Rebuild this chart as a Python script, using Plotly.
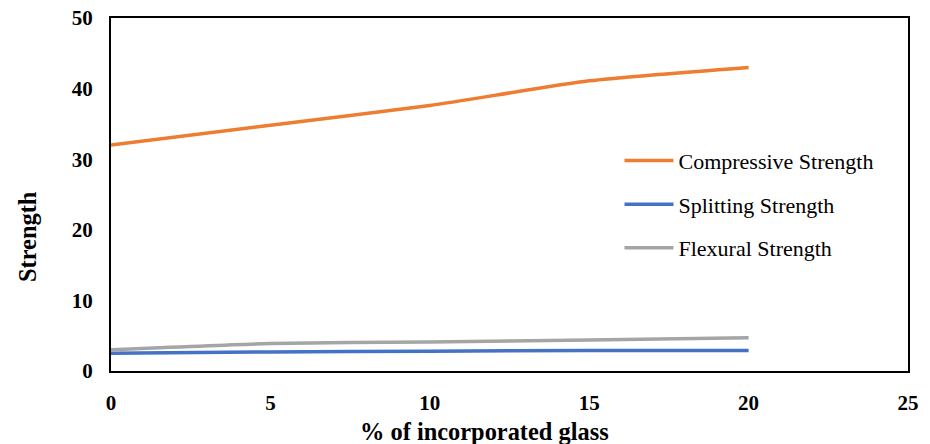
import plotly.graph_objects as go

glass_pct = [0, 5, 10, 15, 20]
compressive = [32.0, 34.8, 37.6, 41.1, 43.0]
splitting = [2.5, 2.7, 2.8, 2.9, 2.9]
flexural = [3.0, 3.9, 4.1, 4.4, 4.7]

series = [
    ("Compressive Strength", compressive, "#ED7D31"),
    ("Splitting Strength", splitting, "#4472C4"),
    ("Flexural Strength", flexural, "#A5A5A5"),
]

x_title = "% of incorporated glass"
y_title = "Strength"

fig = go.Figure()
for i, (name, vals, color) in enumerate(series):
    fig.add_trace(go.Scatter(
        x=glass_pct, y=vals, name=name, mode="lines",
        line=dict(color=color, width=3.5, shape="spline", smoothing=0.6),
        legendgroup=f"g{i}",
    ))

serif = "Liberation Serif, Times New Roman, serif"
axis_common = dict(
    showgrid=False, zeroline=False, showline=True, mirror=True,
    linecolor="black", linewidth=2, ticks="", ticklabelstandoff=12,
    automargin=False,
    tickfont=dict(family=serif, size=21, color="black", weight="bold"),
)
title_font = dict(family=serif, size=24.4, color="black", weight="bold")

fig.update_layout(
    width=930, height=444,
    margin=dict(l=111, r=22, t=18, b=73),
    paper_bgcolor="white", plot_bgcolor="white",
    font=dict(family=serif, color="black"),
    xaxis=dict(range=[0, 25], dtick=5, **axis_common),
    yaxis=dict(range=[0, 50], dtick=10, **axis_common),
    legend=dict(x=0.638, y=0.655, xanchor="left", yanchor="top",
                bgcolor="rgba(0,0,0,0)", tracegroupgap=12, itemwidth=49,
                font=dict(family=serif, size=22, color="black")),
    annotations=[
        dict(text=x_title, xref="paper", yref="paper", x=0.469, y=-0.170,
             xanchor="center", yanchor="middle", showarrow=False,
             font=title_font),
        dict(text=y_title, xref="paper", yref="paper", x=-0.104, y=0.38,
             xanchor="center", yanchor="middle", showarrow=False,
             textangle=-90, font=title_font),
    ],
)

fig.write_html("out.html")
